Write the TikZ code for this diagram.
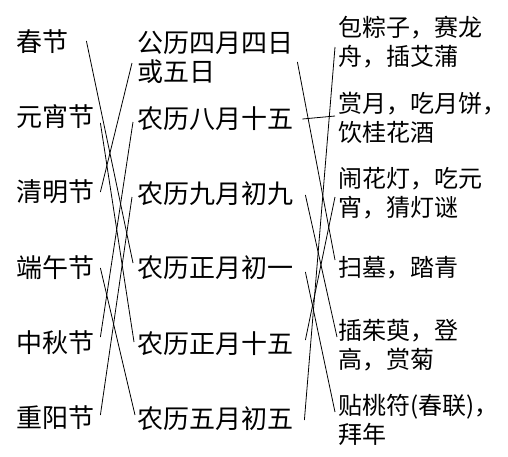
\documentclass[tikz,border=0pt]{standalone}
\usepackage{fontspec}
\newfontfamily\cjk{Noto Sans CJK SC}
\begin{document}
\begin{tikzpicture}[x=1pt,y=-1pt,
  lbl/.style={font=\cjk\fontsize{26pt}{29pt}\selectfont, inner sep=0pt, anchor=west, align=left},
  rlbl/.style={lbl, font=\cjk\fontsize{24pt}{29pt}\selectfont},
  conn/.style={line width=0.8pt}]
\useasboundingbox (0,0) rectangle (508,456);
% festivals
\node[lbl] (f1) at (16,42) {春节};
\node[lbl] (f2) at (16,117) {元宵节};
\node[lbl] (f3) at (16,192) {清明节};
\node[lbl] (f4) at (16,268) {端午节};
\node[lbl] (f5) at (16,343) {中秋节};
\node[lbl] (f6) at (16,418) {重阳节};
% dates
\node[lbl] (d1) at (137,57) {公历四月四日\\或五日};
\node[lbl] (d2) at (137,119) {农历八月十五};
\node[lbl] (d3) at (137,194) {农历九月初九};
\node[lbl] (d4) at (137,268) {农历正月初一};
\node[lbl] (d5) at (137,344) {农历正月十五};
\node[lbl] (d6) at (137,419) {农历五月初五};
% customs
\node[rlbl] (c1) at (338,42) {包粽子，赛龙\\舟，插艾蒲};
\node[rlbl] (c2) at (338,118) {赏月，吃月饼，\\饮桂花酒};
\node[rlbl] (c3) at (338,193) {闹花灯，吃元\\宵，猜灯谜};
\node[rlbl] (c4) at (338,268) {扫墓，踏青};
\node[rlbl] (c5) at (338,345.5) {插茱萸，登\\高，赏菊};
\node[rlbl] (c6) at (338,419.5) {贴桃符(春联)，\\拜年};
% left connectors
\draw[conn] ([xshift=18pt,yshift=1pt]f1.east) -- ([xshift=-4pt,yshift=5pt]d4.west);
\draw[conn] ([xshift=6pt,yshift=-6pt]f2.east) -- ([xshift=-3pt,yshift=2pt]d5.west);
\draw[conn] ([xshift=6pt]f3.east) -- ([xshift=-5pt,yshift=-6pt]d1.west);
\draw[conn] ([xshift=6pt]f4.east) -- ([xshift=-2pt,yshift=4pt]d6.west);
\draw[conn] ([xshift=6pt,yshift=6pt]f5.east) -- ([xshift=-4pt,yshift=-3pt]d2.west);
\draw[conn] ([xshift=6pt,yshift=3pt]f6.east) -- ([xshift=-5pt,yshift=-3pt]d3.west);
% right connectors
\draw[conn] ([xshift=4pt,yshift=-5pt]d1.east) -- ([xshift=-3pt,yshift=8pt]c4.west);
\draw[conn] ([xshift=9pt]d2.east) -- ([xshift=-3pt,yshift=2pt]c2.west);
\draw[conn] ([xshift=12pt,yshift=-1pt]d3.east) -- ([xshift=-1pt,yshift=8.5pt]c5.west);
\draw[conn] ([xshift=12pt,yshift=-4pt]d4.east) -- ([xshift=-3pt,yshift=7.5pt]c6.west);
\draw[conn] ([xshift=12pt,yshift=4pt]d5.east) -- ([xshift=-3pt,yshift=-4pt]c3.west);
\draw[conn] ([xshift=11pt,yshift=-1pt]d6.east) -- ([xshift=-3pt,yshift=-5pt]c1.west);
\end{tikzpicture}
\end{document}
